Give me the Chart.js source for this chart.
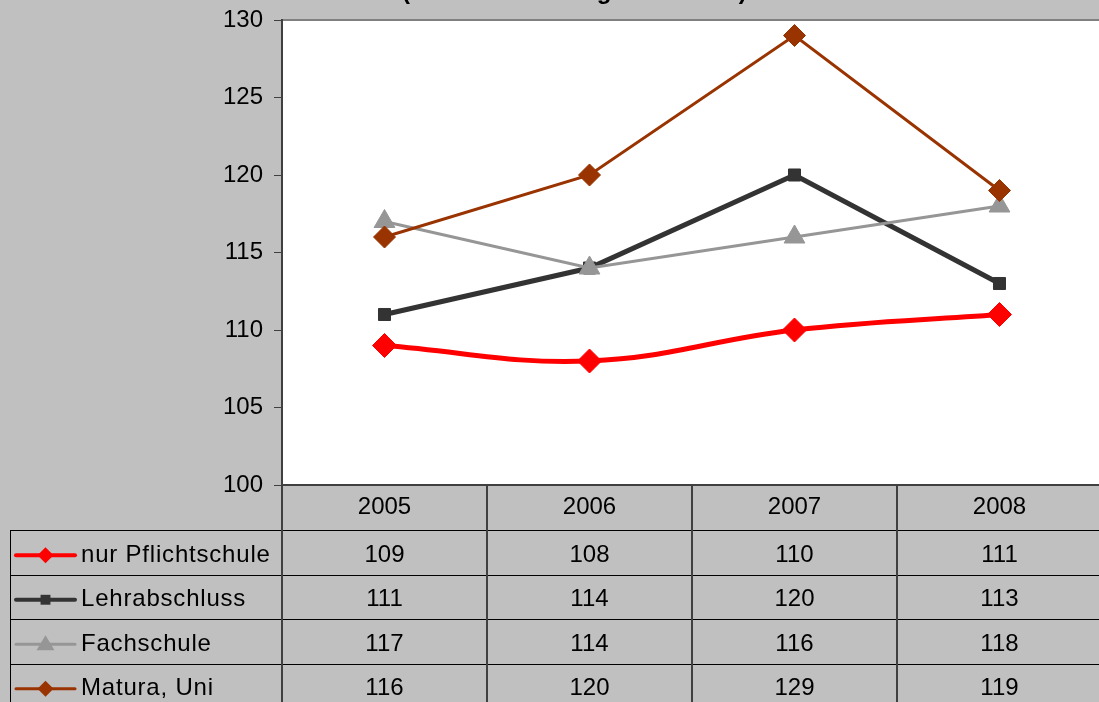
<!DOCTYPE html>
<html>
<head>
<meta charset="utf-8">
<script src="https://cdn.jsdelivr.net/npm/chart.js@4"></script>
<style>
    html, body { margin: 0; padding: 0; background: #C0C0C0; overflow: hidden; }
    canvas { display: block; }
</style>
</head>
<body>
<canvas id="einkommenChart" width="1106" height="702"></canvas>
<script>
const years = ["2005", "2006", "2007", "2008"];
const seriesNames = ["nur Pflichtschule", "Lehrabschluss", "Fachschule", "Matura, Uni"];
const pflichtschule = [109, 108, 110, 111];
const lehrabschluss = [111, 114, 120, 113];
const fachschule = [117, 114, 116, 118];
const maturaUni = [116, 120, 129, 119];
const yTicks = [100, 105, 110, 115, 120, 125, 130];
const titleText = "(Indexentwicklung 2004 = 100)";

const FONT = "'Liberation Sans', Arial, sans-serif";

const styles = [
    { color: "#FF0000", width: 5, point: "rectRot", radius: 12, keyWidth: 4, keyRadius: 8 },
    { color: "#333333", width: 5, point: "rect", radius: 8.5, keyWidth: 4, keyRadius: 7 },
    { color: "#969696", width: 3, point: "triangle", radius: 12, keyWidth: 3, keyRadius: 10 },
    { color: "#993300", width: 3, point: "rectRot", radius: 11, keyWidth: 3, keyRadius: 8 },
];
const allValues = [pflichtschule, lehrabschluss, fachschule, maturaUni];

/** Background, plot area and cut-off title */
const backgroundPlugin = {
    id: "background",
    beforeDraw(chart) {
        const { ctx, chartArea: a } = chart;
        ctx.save();
        ctx.fillStyle = "#C0C0C0";
        ctx.fillRect(0, 0, chart.width, chart.height);
        ctx.fillStyle = "#FFFFFF";
        ctx.fillRect(a.left, a.top, a.right - a.left, a.bottom - a.top);
        ctx.strokeStyle = "#808080";
        ctx.lineWidth = 2;
        ctx.beginPath();
        ctx.moveTo(a.left, a.top);
        ctx.lineTo(a.right, a.top);
        ctx.stroke();
        ctx.strokeStyle = "#404040";
        ctx.beginPath();
        ctx.moveTo(a.left, a.bottom);
        ctx.lineTo(a.right, a.bottom);
        ctx.stroke();
        // title sits mostly above the visible area
        ctx.fillStyle = "#000000";
        ctx.font = "bold 24px " + FONT;
        ctx.textAlign = "left";
        ctx.textBaseline = "alphabetic";
        ctx.fillText(titleText, 402, -1.5);
        ctx.restore();
    },
};

function drawKey(ctx, s, x0, x1, y) {
    ctx.strokeStyle = s.color;
    ctx.lineWidth = s.keyWidth;
    ctx.lineCap = "round";
    ctx.beginPath();
    ctx.moveTo(x0, y);
    ctx.lineTo(x1, y);
    ctx.stroke();
    const cx = (x0 + x1) / 2;
    const r = s.keyRadius;
    ctx.fillStyle = s.color;
    ctx.beginPath();
    if (s.point === "rectRot") {
        ctx.moveTo(cx, y - r);
        ctx.lineTo(cx + r, y);
        ctx.lineTo(cx, y + r);
        ctx.lineTo(cx - r, y);
    } else if (s.point === "rect") {
        const h = r * Math.SQRT1_2;
        ctx.rect(cx - h, y - h, 2 * h, 2 * h);
    } else {
        ctx.moveTo(cx, y - r * 0.9);
        ctx.lineTo(cx + r * 0.9, y + r * 0.6);
        ctx.lineTo(cx - r * 0.9, y + r * 0.6);
    }
    ctx.closePath();
    ctx.fill();
}

/** Data table under the plot */
const tablePlugin = {
    id: "dataTable",
    afterDraw(chart) {
        const { ctx, chartArea: a } = chart;
        const x = chart.scales.x;
        const colW = (x.right - x.left) / years.length;
        const headerBottom = a.bottom + 45;
        const rowH = 44.5;
        const tableLeft = 10;
        ctx.save();

        // horizontal lines
        ctx.strokeStyle = "#000000";
        ctx.lineWidth = 1;
        for (let i = 0; i < seriesNames.length; i++) {
            const yy = Math.round(headerBottom + i * rowH) + 0.5;
            ctx.beginPath();
            ctx.moveTo(tableLeft, yy);
            ctx.lineTo(x.right, yy);
            ctx.stroke();
        }
        ctx.beginPath();
        ctx.moveTo(tableLeft + 0.5, headerBottom);
        ctx.lineTo(tableLeft + 0.5, chart.height);
        ctx.stroke();

        // vertical lines
        ctx.strokeStyle = "#404040";
        ctx.lineWidth = 2;
        for (let i = 0; i <= years.length; i++) {
            const xx = x.left + i * colW;
            ctx.beginPath();
            ctx.moveTo(xx, a.bottom);
            ctx.lineTo(xx, chart.height);
            ctx.stroke();
        }

        ctx.fillStyle = "#000000";
        ctx.font = "24px " + FONT;
        ctx.textAlign = "center";
        ctx.textBaseline = "middle";
        years.forEach((yr, i) => {
            ctx.fillText(yr, x.getPixelForValue(i), a.bottom + 22);
        });

        seriesNames.forEach((name, r) => {
            const cy = headerBottom + r * rowH + rowH / 2 + 3;
            drawKey(ctx, styles[r], 16, 75, cy);
            ctx.fillStyle = "#000000";
            ctx.textAlign = "left";
            ctx.letterSpacing = "0.8px";
            ctx.fillText(name, 81, cy);
            ctx.letterSpacing = "0px";
            ctx.textAlign = "center";
            allValues[r].forEach((v, i) => {
                ctx.fillText(String(v), x.getPixelForValue(i), cy);
            });
        });
        ctx.restore();
    },
};

const datasets = seriesNames.map((name, i) => ({
    label: name,
    data: allValues[i],
    borderColor: styles[i].color,
    backgroundColor: styles[i].color,
    borderWidth: styles[i].width,
    pointStyle: styles[i].point,
    pointRadius: styles[i].radius,
    pointHoverRadius: styles[i].radius,
    pointBorderWidth: 1,
    tension: i === 0 ? 0.4 : 0,
    order: seriesNames.length - i,
    clip: false,
}));

new Chart(document.getElementById("einkommenChart"), {
    type: "line",
    data: { labels: years, datasets },
    options: {
        responsive: false,
        animation: false,
        events: [],
        layout: {
            autoPadding: false,
            padding: { top: 20, bottom: 217, left: 0, right: 4 },
        },
        plugins: {
            legend: { display: false },
            title: { display: false },
            tooltip: { enabled: false },
        },
        scales: {
            x: {
                type: "category",
                offset: true,
                display: false,
            },
            y: {
                min: yTicks[0],
                max: yTicks[yTicks.length - 1],
                afterFit(scale) {
                    scale.width = 282;
                    scale.paddingTop = 0;
                    scale.paddingBottom = 0;
                },
                afterBuildTicks(scale) {
                    scale.ticks = yTicks.map((v) => ({ value: v }));
                },
                ticks: {
                    color: "#000000",
                    font: { family: FONT, size: 24 },
                    padding: 11,
                },
                grid: {
                    drawOnChartArea: false,
                    tickLength: 8,
                    tickWidth: 1,
                    color: "#404040",
                },
                border: { color: "#404040", width: 2 },
            },
        },
    },
    plugins: [backgroundPlugin, tablePlugin],
});
</script>
</body>
</html>
